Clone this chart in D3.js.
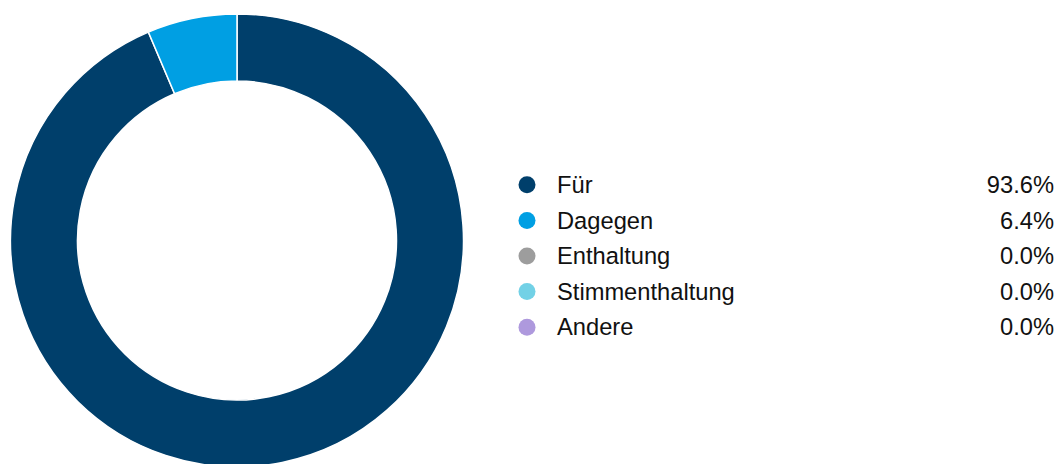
<!DOCTYPE html>
<html>
<head>
<meta charset="utf-8">
<script src="https://cdn.jsdelivr.net/npm/d3@7"></script>
<style>
  body { margin: 0; background: #fff; }
  svg { display: block; font-family: "Liberation Sans", Arial, sans-serif; }
</style>
</head>
<body>
<div id="chart"></div>
<script>
const categories = ['Für', 'Dagegen', 'Enthaltung', 'Stimmenthaltung', 'Andere']
const values = [93.6, 6.4, 0.0, 0.0, 0.0]
const colors = ['#003f6b', '#009fe3', '#9d9d9d', '#72d1e6', '#ae99dd']

const width = 1060
const height = 464

const svg = d3.select('#chart')
  .append('svg')
  .attr('width', width)
  .attr('height', height)

const data = categories.map((c, i) => ({name: c, value: values[i], color: colors[i]}))

// donut
const cx = 237, cy = 240.5
const outer = 226.5, inner = 159.5

const pie = d3.pie().sort(null).value(d => d.value)
const arc = d3.arc().innerRadius(inner).outerRadius(outer)

svg.append('g')
  .attr('transform', `translate(${cx},${cy})`)
  .selectAll('path')
  .data(pie(data).filter(d => d.data.value > 0))
  .join('path')
  .attr('d', arc)
  .attr('fill', d => d.data.color)
  .attr('stroke', '#fff')
  .attr('stroke-width', 1.5)

// legend
const ly = d3.scaleBand()
  .domain(categories)
  .range([167, 345])

const legend = svg.append('g')
const rows = legend.selectAll('g')
  .data(data)
  .join('g')
  .attr('transform', d => `translate(0,${ly(d.name) + ly.bandwidth() / 2})`)

rows.append('circle')
  .attr('cx', 527)
  .attr('r', 8.5)
  .attr('fill', d => d.color)

rows.append('text')
  .attr('x', 557)
  .attr('dy', '0.35em')
  .style('font-size', '23.7px')
  .attr('fill', '#111')
  .text(d => d.name)

rows.append('text')
  .attr('x', 1054)
  .attr('dy', '0.35em')
  .attr('text-anchor', 'end')
  .style('font-size', '23.7px')
  .attr('fill', '#111')
  .text(d => d.value.toFixed(1) + '%')
</script>
</body>
</html>
